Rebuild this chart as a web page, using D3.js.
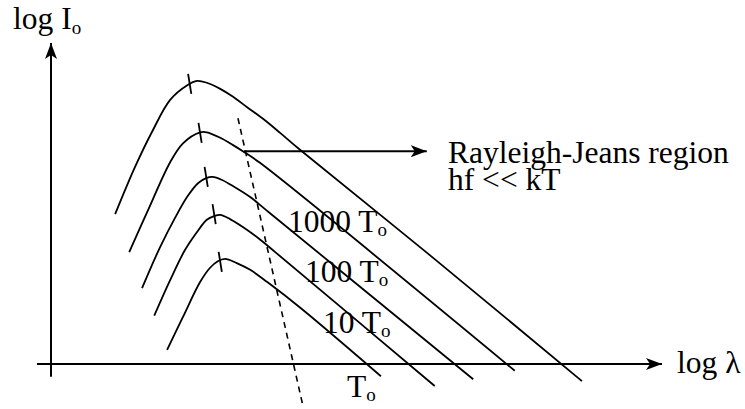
<!DOCTYPE html>
<html>
<head>
<meta charset="utf-8">
<script src="https://cdn.jsdelivr.net/npm/d3@7/dist/d3.min.js"></script>
<style>
  html, body { margin: 0; padding: 0; background: #fff; }
  svg { display: block; }
  text { font-family: "Liberation Serif", "Times New Roman", serif; fill: #000; }
</style>
</head>
<body>
<svg id="chart" width="745" height="409"></svg>
<script>
// Blackbody spectra on log-log axes (schematic), one curve per temperature.
// Each curve: [log λ, log I] pairs in axis units.
const curve10000 = [[1.05,2.45],[1.37,3.21],[1.65,3.79],[1.95,4.32],[2.23,4.56],[2.39,4.63],[2.55,4.60],[2.77,4.50],[2.98,4.37],[3.21,4.20],[3.47,4.01],[3.75,3.78],[4.08,3.50],[6.20,1.78],[8.69,-0.28]];
const curve1000 = [[1.28,1.83],[1.59,2.52],[1.95,3.30],[2.16,3.61],[2.44,3.79],[2.55,3.79],[2.77,3.70],[2.98,3.58],[3.14,3.48],[3.42,3.29],[7.59,-0.11]];
const curve100 = [[1.49,1.24],[1.78,1.90],[2.03,2.39],[2.24,2.75],[2.41,2.96],[2.54,3.04],[2.64,3.06],[2.80,3.01],[3.01,2.89],[3.26,2.73],[3.58,2.47],[6.91,-0.25]];
const curve10 = [[1.69,0.79],[1.95,1.37],[2.19,1.86],[2.39,2.16],[2.55,2.36],[2.67,2.42],[2.77,2.44],[2.93,2.37],[3.14,2.24],[3.39,2.06],[3.67,1.83],[6.28,-0.36]];
const curve1 = [[1.90,0.23],[2.16,0.77],[2.44,1.34],[2.60,1.57],[2.73,1.68],[2.85,1.72],[3.04,1.65],[3.26,1.54],[3.54,1.34],[4.08,0.92],[5.40,-0.20]];
const curves = [curve10000, curve1000, curve100, curve10, curve1];

// Peak positions (marked with a short tick on each curve)
const peaks = [[2.27,4.58],[2.44,3.78],[2.54,3.06],[2.67,2.45],[2.77,1.67]];

// Temperature multipliers labelling curves 2..5
const tempLabels = ["1000", "100", "10", ""];

// Wien displacement line through the peaks (dashed)
const wienLine = [[3.06,4.02],[4.12,-0.67]];

// Rayleigh-Jeans pointer arrow
const rjArrow = [[3.16,3.48],[6.15,3.48]];
const rjText = ["Rayleigh-Jeans region", "hf << kT"];

const axisTitles = { x: "log λ", y: "log I" };

// ---- layout ----
const FONT = 31.5, SUB = 19;
const svg = d3.select("#chart");
const x = d3.scaleLinear().domain([0, 10]).range([51, 662]);
const y = d3.scaleLinear().domain([0, 5.25]).range([364, 43]);

const defs = svg.append("defs");
defs.append("marker")
  .attr("id", "head")
  .attr("viewBox", "0 0 16 12")
  .attr("refX", 16).attr("refY", 6)
  .attr("markerWidth", 16).attr("markerHeight", 12)
  .attr("markerUnits", "userSpaceOnUse")
  .attr("orient", "auto")
  .append("path")
  .attr("d", "M0,0 L16,6 L0,12 L4,6 Z")
  .attr("fill", "#000");

// Axes
svg.append("line")
  .attr("x1", x(-0.23)).attr("y1", y(0))
  .attr("x2", x(10)).attr("y2", y(0))
  .attr("stroke", "#000").attr("stroke-width", 2)
  .attr("marker-end", "url(#head)");
svg.append("line")
  .attr("x1", x(0)).attr("y1", y(-0.21))
  .attr("x2", x(0)).attr("y2", y(5.25))
  .attr("stroke", "#000").attr("stroke-width", 2)
  .attr("marker-end", "url(#head)");

// Curves
const line = d3.line()
  .x(d => x(d[0])).y(d => y(d[1]))
  .curve(d3.curveCatmullRom.alpha(0.5));

svg.selectAll("path.spec")
  .data(curves)
  .join("path")
  .attr("class", "spec")
  .attr("d", line)
  .attr("fill", "none")
  .attr("stroke", "#000")
  .attr("stroke-width", 1.8);

// Peak ticks (short, slightly tilted)
svg.selectAll("line.peak")
  .data(peaks)
  .join("line")
  .attr("class", "peak")
  .attr("x1", d => x(d[0]) - 1.6).attr("y1", d => y(d[1]) - 10)
  .attr("x2", d => x(d[0]) + 1.6).attr("y2", d => y(d[1]) + 10)
  .attr("stroke", "#000").attr("stroke-width", 1.8);

// Wien line
svg.append("line")
  .attr("x1", x(wienLine[0][0])).attr("y1", y(wienLine[0][1]))
  .attr("x2", x(wienLine[1][0])).attr("y2", y(wienLine[1][1]))
  .attr("stroke", "#000").attr("stroke-width", 1.6)
  .attr("stroke-dasharray", "6,5");

// Rayleigh-Jeans arrow and text
svg.append("line")
  .attr("x1", x(rjArrow[0][0])).attr("y1", y(rjArrow[0][1]))
  .attr("x2", x(rjArrow[1][0])).attr("y2", y(rjArrow[1][1]))
  .attr("stroke", "#000").attr("stroke-width", 2)
  .attr("marker-end", "url(#head)");

svg.append("text")
  .attr("x", 448).attr("y", 163)
  .attr("font-size", FONT)
  .selectAll("tspan")
  .data(rjText)
  .join("tspan")
  .attr("x", 448)
  .attr("dy", (d, i) => i === 0 ? 0 : 27)
  .text(d => d);

// Temperature labels
const labelPos = [[288,232],[305,282],[323,333],[347,397]];
const lbl = svg.selectAll("text.temp")
  .data(tempLabels)
  .join("text")
  .attr("class", "temp")
  .attr("x", (d, i) => labelPos[i][0])
  .attr("y", (d, i) => labelPos[i][1])
  .attr("font-size", FONT);
lbl.append("tspan").text(d => d ? d + " T" : "T");
lbl.append("tspan").attr("font-size", SUB).attr("dy", 4).text("o");

// Axis titles
const yt = svg.append("text").attr("x", 13).attr("y", 29).attr("font-size", FONT);
yt.append("tspan").text(axisTitles.y);
yt.append("tspan").attr("font-size", SUB).attr("dy", 5).text("o");

svg.append("text").attr("x", 677).attr("y", 373).attr("font-size", FONT).text(axisTitles.x);
</script>
</body>
</html>
